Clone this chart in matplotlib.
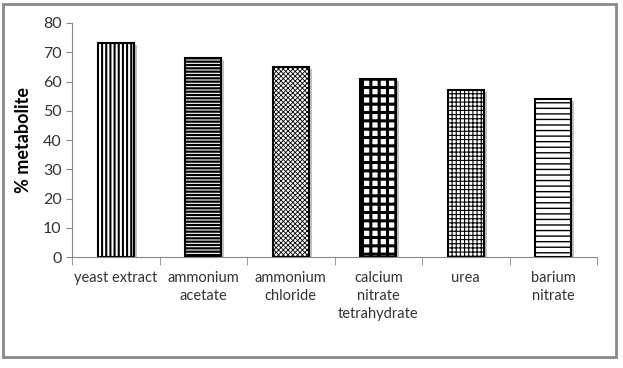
import matplotlib
matplotlib.use('Agg')
import matplotlib.pyplot as plt
from matplotlib.patches import Rectangle
from matplotlib.transforms import offset_copy
import numpy as np

plt.rcParams['font.family'] = ['Lato', 'DejaVu Sans']

categories = ['yeast extract', 'ammonium\nacetate', 'ammonium\nchloride',
              'calcium\nnitrate\ntetrahydrate', 'urea', 'barium\nnitrate']
values = [73, 68, 65, 61, 57, 54]
hatches = ['||||', '-----', 'xxxxxxx', '++', '++++', '---']
hatch_lw = [1.5, 1.6, 0.6, 2.2, 0.8, 1.0]
yticks = [0, 10, 20, 30, 40, 50, 60, 70, 80]

fig = plt.figure(figsize=(6.23, 3.68), dpi=100)
ax = fig.add_axes([0.1156, 0.3016, 0.8427, 0.6359])

x = np.arange(len(categories))
w = 0.41
# drop shadow behind each bar
sh = offset_copy(ax.transData, fig=fig, x=3, y=-2, units='dots')
ax.bar(x, values, width=w, color='#9a9a9a', edgecolor='none', alpha=0.6,
       transform=sh, zorder=1)
for i in range(len(categories)):
    with plt.rc_context({'hatch.linewidth': hatch_lw[i]}):
        ax.bar(x[i], values[i], width=w, color='white', edgecolor='black',
               linewidth=1.5, hatch=hatches[i], zorder=2)

ax.set_xlim(-0.5, len(categories) - 0.5)
ax.set_ylim(0, 80)
ax.set_yticks(yticks)
ax.tick_params(axis='y', labelsize=11.5, length=4, color='#888888', labelcolor='#333333')
ax.set_xticks(x)
ax.set_xticklabels(categories, fontsize=10.5, color='#333333', linespacing=1.35)
ax.tick_params(axis='x', length=0, pad=10)
ax.set_xticks(np.arange(-0.5, len(categories)), minor=True)
ax.tick_params(axis='x', which='minor', length=6, color='#888888')

for s in ['top', 'right']:
    ax.spines[s].set_visible(False)
for s in ['left', 'bottom']:
    ax.spines[s].set_color('#888888')

ax.set_ylabel('% metabolite', fontsize=13, fontweight='bold', labelpad=8)

fig.patches.append(Rectangle((0.005, 0.03), 0.983, 0.96, transform=fig.transFigure,
                             fill=False, edgecolor='#888888', linewidth=2))

fig.savefig('out.png', dpi=100)
